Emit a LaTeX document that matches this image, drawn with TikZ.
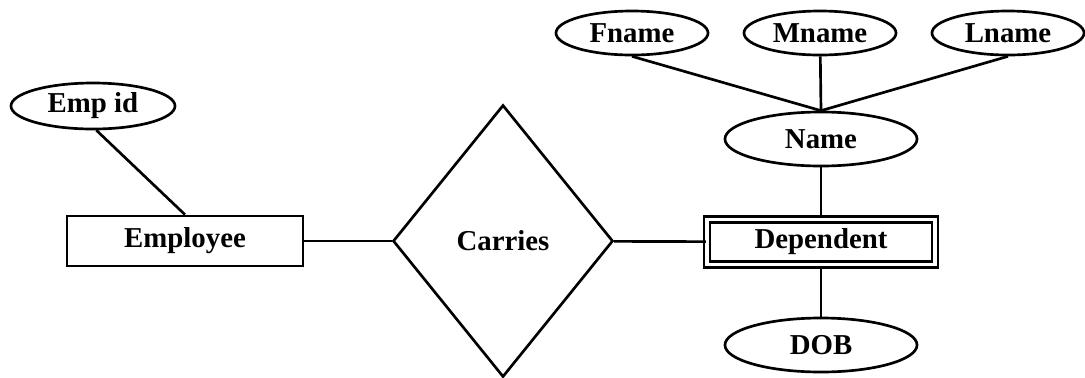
\documentclass[tikz,border=0pt]{standalone}
\usepackage{fontspec}
\setmainfont{Liberation Serif}
\usetikzlibrary{shapes.geometric}
\begin{document}
\begin{tikzpicture}[x=0.025cm,y=-0.025cm,line width=1.9pt,
  font=\fontsize{20.5}{24}\selectfont\bfseries,
  attr/.style={draw,ellipse,inner sep=0pt},
  ent/.style={draw,rectangle,inner sep=0pt,minimum width=5.9cm,minimum height=1.25cm},
  weak/.style={draw,rectangle,inner sep=0pt,double,double distance=2.6pt,line width=1.6pt,minimum width=5.7cm,minimum height=1.125cm},
  rel/.style={draw,diamond,inner sep=0pt,minimum width=5.5cm,minimum height=6.8cm}]
\useasboundingbox (0,0) rectangle (1085,377);
\node[attr,minimum width=4.1cm,minimum height=1.15cm] (empid) at (93,106) {Emp id};
\node[ent] (employee) at (185,241) {Employee};
\node[rel] (carries) at (503,241) {Carries};
\node[weak] (dependent) at (821,242) {Dependent};
\node[attr,minimum width=4.8cm,minimum height=1.35cm] (name) at (821,139) {Name};
\node[attr,minimum width=4.8cm,minimum height=1.35cm] (dob) at (821,345) {DOB};
\node[attr,minimum width=3.8cm,minimum height=1.1cm] (fname) at (632,33) {Fname};
\node[attr,minimum width=3.8cm,minimum height=1.1cm] (mname) at (820,33) {Mname};
\node[attr,minimum width=3.8cm,minimum height=1.1cm] (lname) at (1008,33) {Lname};
\draw (empid.278) -- (employee.north);
\draw (employee) -- (carries);
\draw (carries) -- (dependent);
\draw (dependent) -- (name);
\draw (dependent) -- (dob);
\draw (fname.south) -- (name.north);
\draw (mname) -- (name.north);
\draw (lname.south) -- (name.north);
\end{tikzpicture}
\end{document}
